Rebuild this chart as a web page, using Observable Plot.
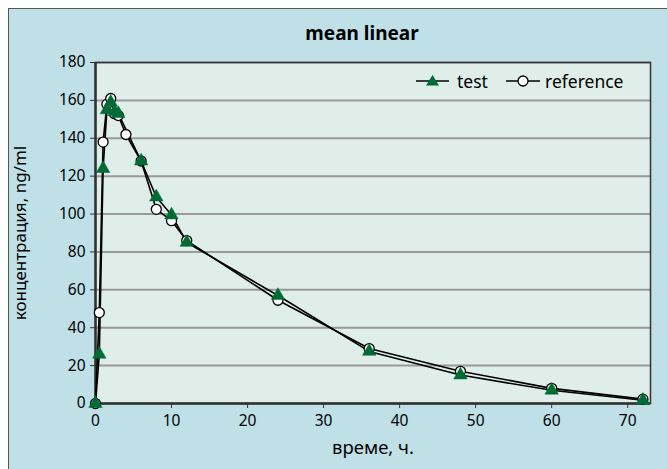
<!DOCTYPE html>
<html>
<head>
<meta charset="utf-8">
<script src="https://cdn.jsdelivr.net/npm/d3@7"></script>
<script src="https://cdn.jsdelivr.net/npm/@observablehq/plot@0.6"></script>
<style>
  html, body { margin: 0; padding: 0; background: #fff; width: 667px; height: 469px; overflow: hidden; }
  body { font-family: "Noto Sans", "Open Sans", sans-serif; position: relative; }
  #box { position: absolute; left: 8px; top: 8px; width: 740px; height: 500px; background: #bfe0e6; border: 1px solid #555; box-sizing: border-box; }
  #chart { position: absolute; left: 0; top: 0; }
  #title { position: absolute; left: 232px; width: 260px; top: 20px; text-align: center; font-weight: bold; font-size: 19px; color: #000; }
  .leg { position: absolute; top: 70px; font-size: 17.5px; line-height: 22px; color: #000; }
  #chart g[aria-label="y-axis label"] text { font-size: 17px; }
  #chart g[aria-label="x-axis label"] text { font-size: 18.5px; }
  #chart g[aria-label="y-axis tick label"] text, #chart g[aria-label="x-axis tick label"] text { font-size: 15.5px; }
</style>
</head>
<body>
<div id="box"></div>
<div id="chart"></div>
<div id="title">mean linear</div>
<div id="legend"></div>
<script>
const titleText = "mean linear";
const xLabel = "време, ч.";
const yLabel = "концентрация, ng/ml";
const seriesNames = ["test", "reference"];

const testTime = [0, 0.5, 1, 1.5, 2, 2.5, 3, 6, 8, 10, 12, 24, 36, 48, 60, 72];
const testConc = [0, 26, 124, 155, 159, 154, 153, 128, 109, 99.5, 85, 57, 27.5, 15, 7, 1.7];

const refTime = [0, 0.5, 1, 1.5, 2, 2.5, 3, 4, 6, 8, 10, 12, 24, 36, 48, 60, 72];
const refConc = [0, 48, 138, 158, 161, 153, 152, 142, 128, 102.5, 96.5, 86, 54.5, 29, 17, 8, 2.3];

const xTicks = [0, 10, 20, 30, 40, 50, 60, 70];
const yTicks = [0, 20, 40, 60, 80, 100, 120, 140, 160, 180];

const test = testTime.map((t, i) => ({t, c: testConc[i]}));
const ref = refTime.map((t, i) => ({t, c: refConc[i]}));

const green = "#006b35";

const svg = Plot.plot({
  width: 667,
  height: 469,
  marginLeft: 95,
  marginRight: 17,
  marginTop: 62,
  marginBottom: 66,
  style: {fontFamily: "'Noto Sans', sans-serif", fontSize: "15px", color: "#000", background: "transparent", overflow: "visible"},
  x: {domain: [0, 73]},
  y: {domain: [0, 180]},
  marks: [
    Plot.frame({fill: "#dfeee9", stroke: null}),
    Plot.gridY(yTicks, {stroke: "#999", strokeOpacity: 1, strokeWidth: 2}),
    Plot.frame({stroke: "#333", strokeWidth: 1.5}),
    Plot.ruleX([0], {stroke: "#333", strokeWidth: 2.5}),
    Plot.ruleY([0], {stroke: "#333", strokeWidth: 2.5}),
    Plot.axisY(yTicks, {tickSize: 5, tickPadding: 5, stroke: "#333", fontSize: 15, label: yLabel, labelAnchor: "center", labelArrow: "none", labelOffset: 82}),
    Plot.axisX(xTicks, {tickSize: 5, tickPadding: 6, stroke: "#333", fontSize: 15, label: xLabel, labelAnchor: "center", labelArrow: "none", labelOffset: 50}),
    Plot.line(ref, {x: "t", y: "c", stroke: "#000", strokeWidth: 1.6}),
    Plot.line(test, {x: "t", y: "c", stroke: "#000", strokeWidth: 1.6}),
    Plot.dot(ref, {x: "t", y: "c", r: 5, fill: "#fff", stroke: "#000", strokeWidth: 1.3}),
    Plot.dot(test, {x: "t", y: "c", r: 5, symbol: "triangle", fill: green, stroke: green, strokeWidth: 0.5})
  ]
});
document.getElementById("chart").appendChild(svg);
document.getElementById("title").textContent = titleText;

const legend = document.getElementById("legend");
legend.innerHTML = `
<div class="leg" style="left:415px"><svg width="36" height="22" style="vertical-align:top"><line x1="1" x2="34" y1="11" y2="11" stroke="#000" stroke-width="1.6"/><path d="M17.5,5 L24,15.5 L11,15.5 Z" fill="${green}"/></svg><span style="margin-left:6px">${seriesNames[0]}</span></div>
<div class="leg" style="left:505px"><svg width="36" height="22" style="vertical-align:top"><line x1="1" x2="35" y1="11" y2="11" stroke="#000" stroke-width="1.6"/><circle cx="18" cy="11" r="5" fill="#fff" stroke="#000" stroke-width="1.3"/></svg><span style="margin-left:4px">${seriesNames[1]}</span></div>`;
</script>
</body>
</html>
